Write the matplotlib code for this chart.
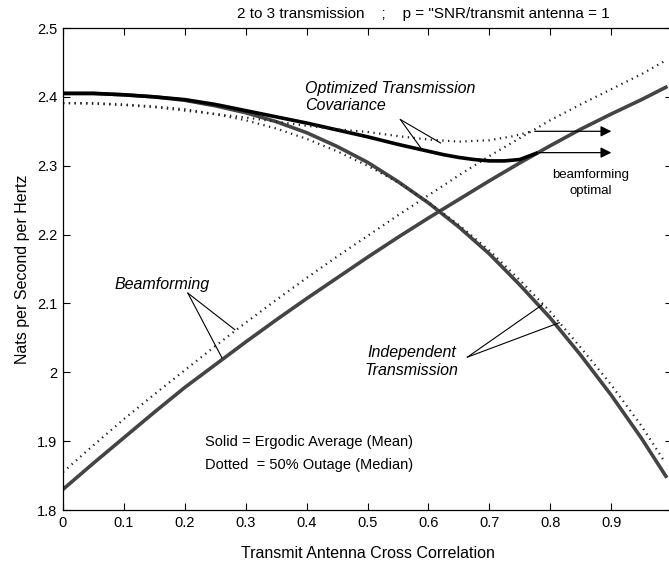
import numpy as np
import matplotlib.pyplot as plt

plt.rcParams['font.family'] = ['Liberation Sans', 'DejaVu Sans']

# correlation grid
x = [0, 0.05, 0.1, 0.15, 0.2, 0.25, 0.3, 0.35, 0.4, 0.45, 0.5,
     0.55, 0.6, 0.65, 0.7, 0.75, 0.8, 0.85, 0.9, 0.95, 0.99]
x_ind_dot = x[:-1] + [0.985]

# beamforming
beam_mean = [1.830, 1.868, 1.905, 1.942, 1.978, 2.011, 2.044, 2.076, 2.107, 2.137, 2.167,
             2.196, 2.224, 2.251, 2.278, 2.304, 2.329, 2.353, 2.375, 2.396, 2.414]
beam_median = [1.855, 1.894, 1.932, 1.968, 2.003, 2.038, 2.072, 2.105, 2.137, 2.168, 2.198,
               2.228, 2.257, 2.286, 2.314, 2.340, 2.366, 2.389, 2.411, 2.433, 2.453]

# independent transmission
ind_mean = [2.405, 2.405, 2.403, 2.400, 2.395, 2.387, 2.377, 2.364, 2.348, 2.328, 2.305,
            2.277, 2.246, 2.211, 2.172, 2.127, 2.079, 2.025, 1.967, 1.904, 1.849]
ind_median = [2.391, 2.391, 2.389, 2.386, 2.382, 2.375, 2.366, 2.354, 2.339, 2.321, 2.300,
              2.276, 2.247, 2.214, 2.177, 2.134, 2.088, 2.036, 1.982, 1.922, 1.874]

# optimized covariance (up to where beamforming takes over)
x_opt = [0, 0.05, 0.1, 0.15, 0.2, 0.25, 0.3, 0.35, 0.4, 0.45, 0.5,
         0.55, 0.6, 0.625, 0.65, 0.675, 0.7, 0.725, 0.75, 0.777]
opt_mean = [2.405, 2.405, 2.403, 2.400, 2.396, 2.389, 2.380, 2.371, 2.362, 2.352, 2.342,
            2.331, 2.321, 2.316, 2.312, 2.309, 2.307, 2.307, 2.309, 2.318]
x_opt_dot = [0, 0.05, 0.1, 0.15, 0.2, 0.25, 0.3, 0.35, 0.4, 0.45, 0.5,
             0.55, 0.6, 0.65, 0.7, 0.74, 0.77]
opt_median = [2.391, 2.390, 2.388, 2.385, 2.380, 2.375, 2.370, 2.364, 2.358, 2.353, 2.349,
              2.343, 2.338, 2.335, 2.337, 2.343, 2.350]

fig = plt.figure(figsize=(6.69, 5.62), dpi=100)
ax = fig.add_axes([63/669, 52/562, 609/669, 482/562])

dot = dict(color='#222222', lw=1.6, linestyle=(0, (0.6, 2.0)))
ax.plot(x, beam_mean, color='#444444', lw=2.6)
ax.plot(x, beam_median, **dot)
ax.plot(x, ind_mean, color='#444444', lw=2.6)
ax.plot(x_ind_dot, ind_median, **dot)
ax.plot(x_opt, opt_mean, color='black', lw=2.6)
ax.plot(x_opt_dot, opt_median, **dot)

ax.set_xlim(0, 1)
ax.set_ylim(1.8, 2.5)
ax.set_xticks(np.arange(0, 0.95, 0.1))
ax.set_xticklabels(['0', '0.1', '0.2', '0.3', '0.4', '0.5', '0.6', '0.7', '0.8', '0.9'])
ax.set_yticks([1.8, 1.9, 2.0, 2.1, 2.2, 2.3, 2.4, 2.5])
ax.set_yticklabels(['1.8', '1.9', '2', '2.1', '2.2', '2.3', '2.4', '2.5'])
ax.tick_params(direction='in', top=True, right=True, length=5, labelsize=10.5, pad=4)
for s in ax.spines.values():
    s.set_linewidth(0.9)

ax.set_xlabel('Transmit Antenna Cross Correlation', fontsize=11.5, labelpad=12)
ax.set_ylabel('Nats per Second per Hertz', fontsize=11.5, labelpad=5)
fig.text(423/669, 1 - 14/562, '2 to 3 transmission    ;    p = "SNR/transmit antenna = 1',
         ha='center', va='center', fontsize=11)

# annotations
ax.text(0.397, 2.40, 'Optimized Transmission\nCovariance', style='italic', fontsize=11.5,
        ha='left', va='center', linespacing=1.15)
for tx, ty in [(0.62, 2.333), (0.589, 2.324)]:
    ax.plot([0.554, tx], [2.367, ty], color='black', lw=0.8)

ax.text(0.163, 2.128, 'Beamforming', style='italic', fontsize=11.5, ha='center', va='center')
for tx, ty in [(0.282, 2.062), (0.261, 2.021)]:
    ax.plot([0.205, tx], [2.115, ty], color='black', lw=0.8)

ax.text(0.573, 2.015, 'Independent\nTransmission', style='italic', fontsize=11.5,
        ha='center', va='center', linespacing=1.25)
for tx, ty in [(0.787, 2.098), (0.815, 2.072)]:
    ax.plot([0.664, tx], [2.022, ty], color='black', lw=0.8)

ax.annotate('', xy=(0.905, 2.350), xytext=(0.77, 2.350),
            arrowprops=dict(arrowstyle='-|>', color='black', lw=0.9, mutation_scale=16))
ax.annotate('', xy=(0.905, 2.319), xytext=(0.777, 2.319),
            arrowprops=dict(arrowstyle='-|>', color='black', lw=0.9, mutation_scale=16))
ax.text(0.866, 2.275, 'beamforming\noptimal', fontsize=9.5, ha='center', va='center',
        linespacing=1.35)

ax.text(0.233, 1.899, 'Solid = Ergodic Average (Mean)', fontsize=10.5, ha='left', va='center')
ax.text(0.233, 1.866, 'Dotted  = 50% Outage (Median)', fontsize=10.5, ha='left', va='center')

fig.savefig('out.png', dpi=100)
